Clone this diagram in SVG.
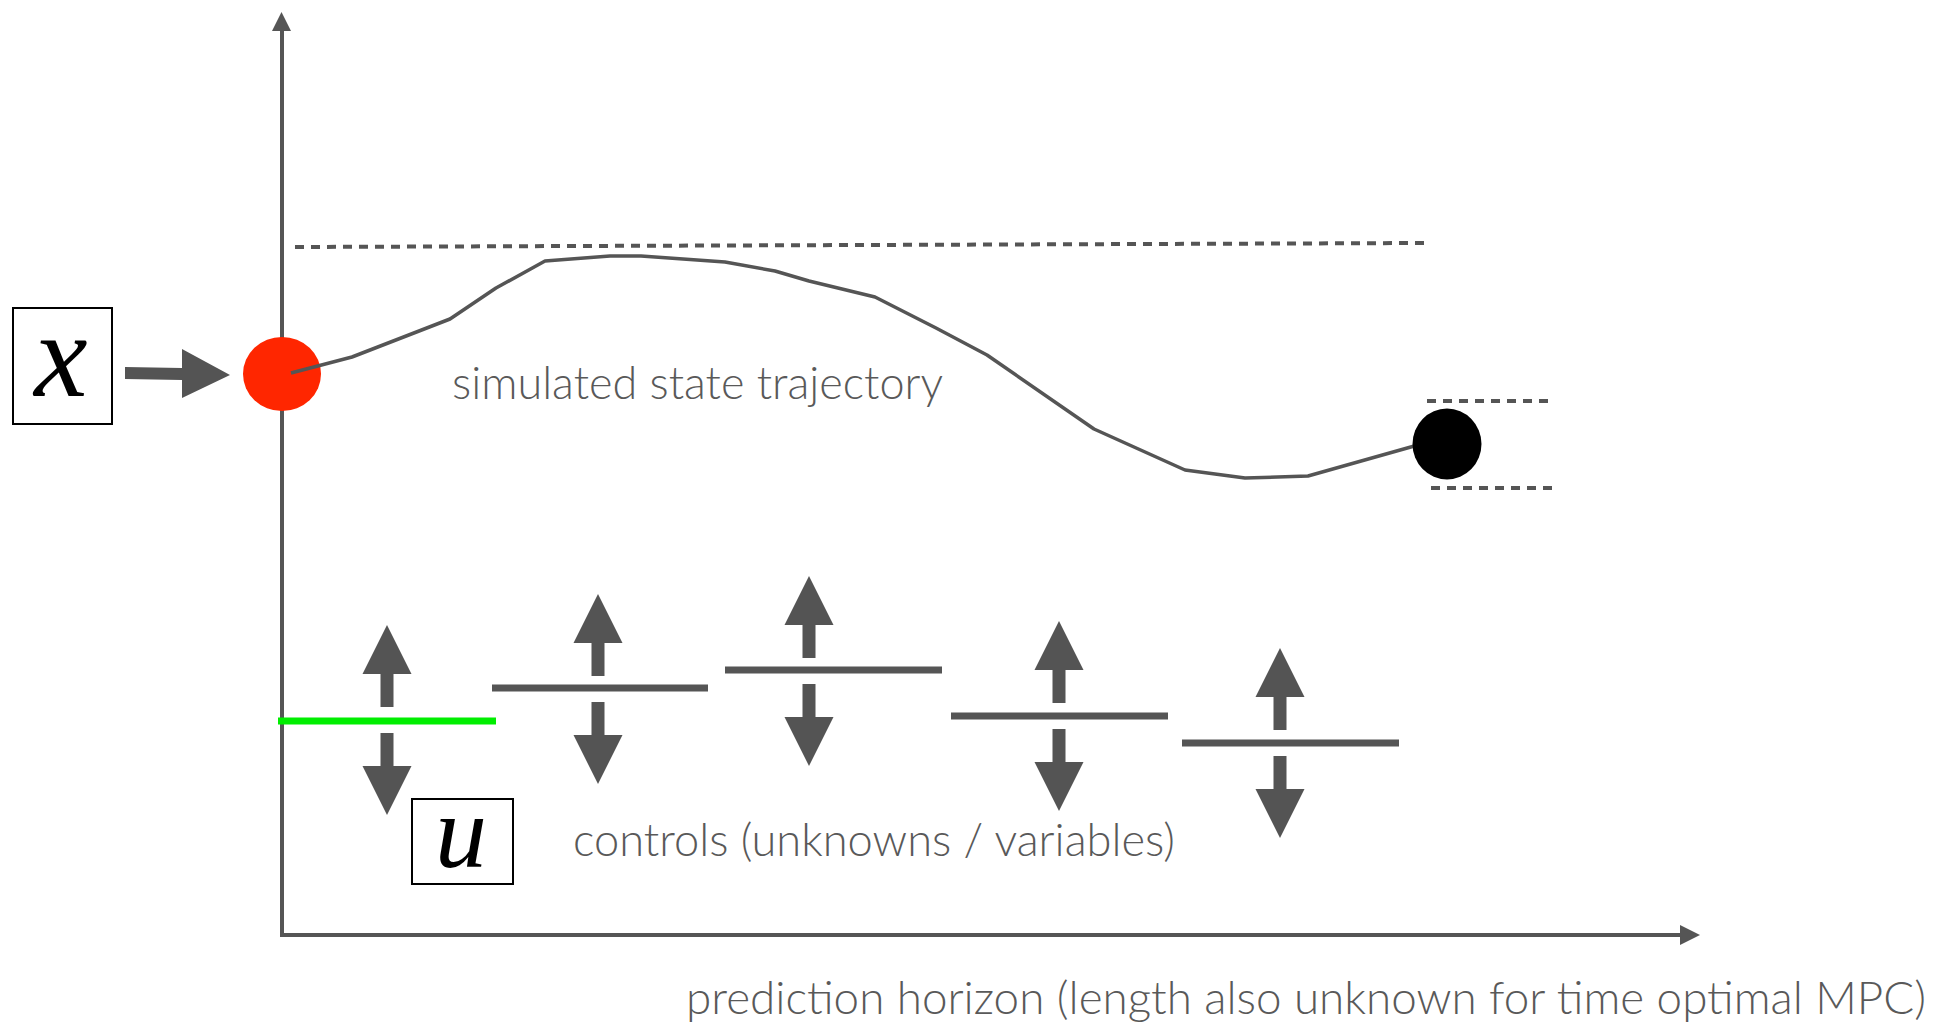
<svg xmlns="http://www.w3.org/2000/svg" width="1944" height="1022" viewBox="0 0 1944 1022">
<defs>
<style>
.axis{stroke:#555;stroke-width:4;fill:none}
.dash{stroke:#555;stroke-width:4;stroke-dasharray:9 7;fill:none}
.traj{stroke:#555;stroke-width:3.5;fill:none;stroke-linejoin:round}
.ctrl{stroke:#555;stroke-width:7;fill:none}
.lbl{font-family:Lato,"Liberation Sans",sans-serif;font-weight:300;font-size:46px;fill:#595959}
.math{font-family:"Liberation Serif","DejaVu Serif",serif;font-style:italic;fill:#000}
.box{fill:#fff;stroke:#000;stroke-width:2}
</style>
<g id="updown">
<rect x="-6.5" y="-46" width="13" height="33" fill="#545454"/>
<polygon points="-24.5,-46 24.5,-46 0,-95" fill="#545454"/>
<rect x="-6.5" y="13" width="13" height="33" fill="#545454"/>
<polygon points="-24.5,46 24.5,46 0,95" fill="#545454"/>
</g>
</defs>
<rect width="1944" height="1022" fill="#fff"/>
<g id="axes">
<line class="axis" x1="282" y1="937" x2="282" y2="28"/>
<polygon points="272,31 291,31 281.5,12" fill="#555"/>
<line class="axis" x1="280" y1="935" x2="1684" y2="935"/>
<polygon points="1680,925 1700,935 1680,945" fill="#555"/>
</g>
<g id="bounds">
<line class="dash" x1="295" y1="247" x2="1427" y2="243"/>
<line class="dash" x1="1427" y1="401" x2="1552" y2="401"/>
<line class="dash" x1="1431" y1="488" x2="1555" y2="488"/>
</g>
<g id="connectors">
<polygon points="125,367 182,368 182,349 230,375 182,398 182,380 125,379" fill="#545454"/>
</g>
<g id="x-node">
<rect class="box" x="13" y="308" width="99" height="116"/>
<text class="math" x="61" y="396" font-size="120" text-anchor="middle">x</text>
</g>
<g id="start-state">
<ellipse cx="282" cy="374" rx="39" ry="37" fill="#ff2600"/>
</g>
<g id="trajectory">
<polyline class="traj" points="291,373 352,357 450,319 496,288 545,261 610,256 641,256 725,262 775,271 809,281 875,297 936,328 987,355 1094,429 1185,470 1245,478 1308,476 1425,443"/>
<text class="lbl" x="452" y="399" textLength="491" lengthAdjust="spacingAndGlyphs">simulated state trajectory</text>
</g>
<g id="end-state">
<ellipse cx="1447" cy="444" rx="34.5" ry="35.5" fill="#000"/>
</g>
<g id="controls">
<line x1="278" y1="721" x2="496" y2="721" stroke="#00ee00" stroke-width="7"/>
<line class="ctrl" x1="492" y1="688" x2="708" y2="688"/>
<line class="ctrl" x1="725" y1="670" x2="942" y2="670"/>
<line class="ctrl" x1="951" y1="716" x2="1168" y2="716"/>
<line class="ctrl" x1="1182" y1="743" x2="1399" y2="743"/>
<use href="#updown" x="387" y="720"/>
<use href="#updown" x="598" y="689"/>
<use href="#updown" x="809" y="671"/>
<use href="#updown" x="1059" y="716"/>
<use href="#updown" x="1280" y="743"/>
<text class="lbl" x="573" y="856" textLength="602" lengthAdjust="spacingAndGlyphs">controls (unknowns / variables)</text>
</g>
<g id="u-node">
<rect class="box" x="412" y="799" width="101" height="85"/>
<text class="math" x="461" y="867" font-size="104" text-anchor="middle">u</text>
</g>
<g id="horizon-label">
<text class="lbl" x="686" y="1014" textLength="1240" lengthAdjust="spacingAndGlyphs">prediction horizon (length also unknown for time optimal MPC)</text>
</g>
</svg>
